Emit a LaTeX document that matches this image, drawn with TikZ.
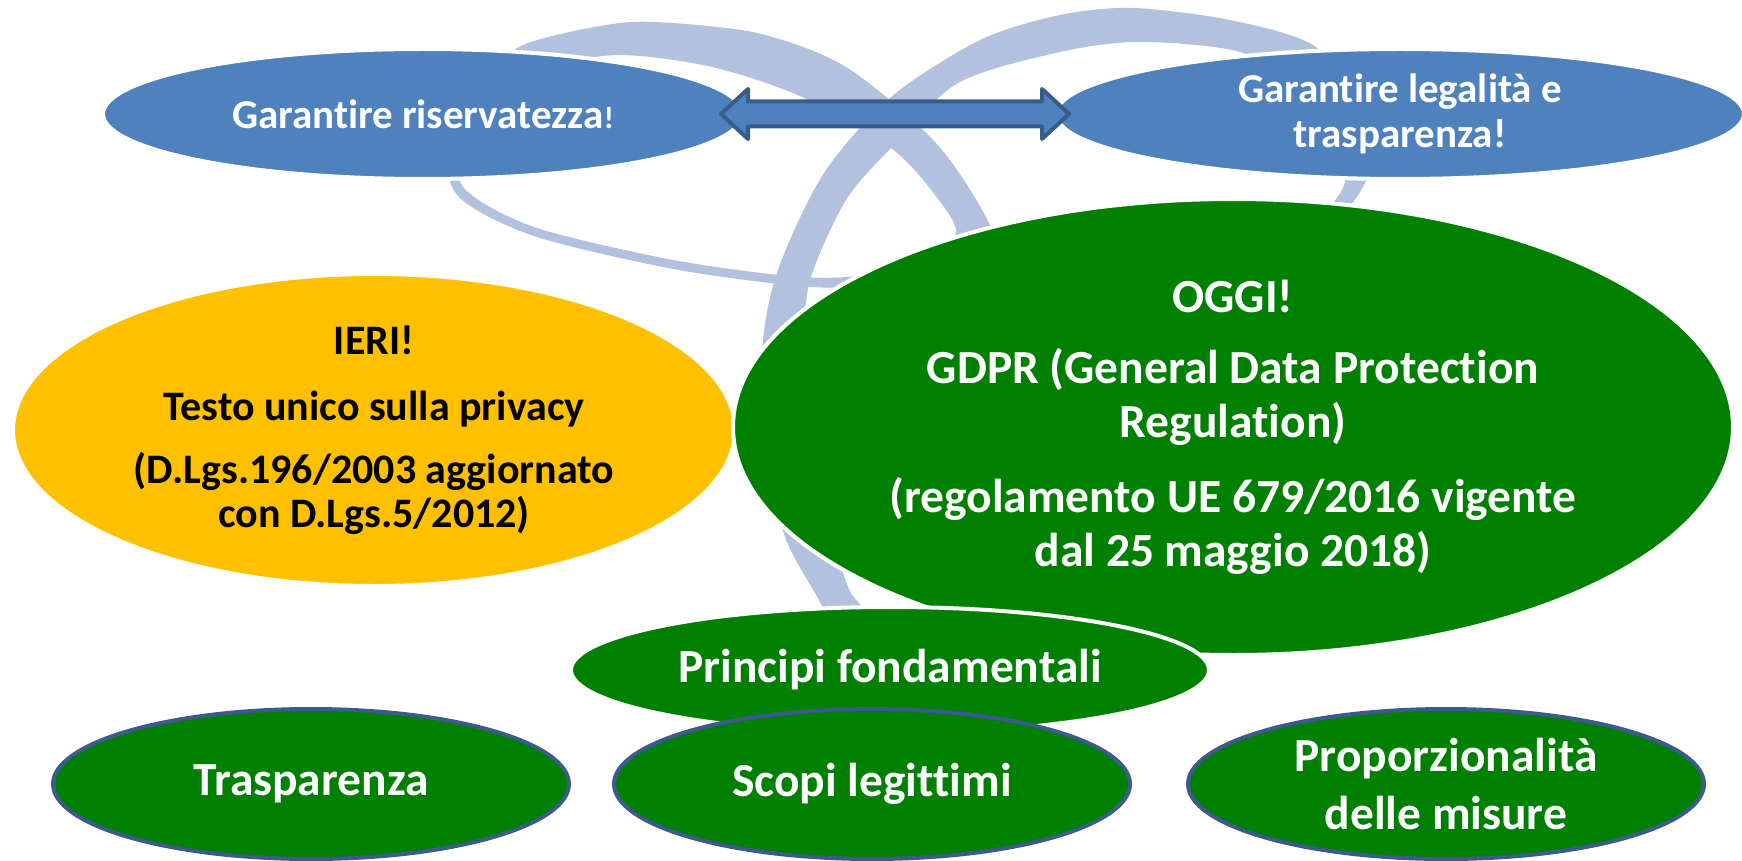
\documentclass[tikz,border=0pt]{standalone}
\usepackage{fontspec}
\setmainfont{Carlito}[Ligatures=NoCommon]
\usetikzlibrary{calc,shapes.geometric}
\definecolor{ringColor}{RGB}{178,194,222}
\definecolor{accentColor}{RGB}{79,129,189}
\definecolor{accentDark}{RGB}{56,93,138}
\definecolor{todayColor}{RGB}{0,128,0}
\definecolor{pastColor}{RGB}{255,192,0}
\definecolor{borderColor}{RGB}{60,90,140}

\begin{document}
\begin{tikzpicture}[
    x=1pt, y=-1pt,
    every node/.style={align=center, inner sep=0pt},
    ring band/.style={fill=ringColor, even odd rule},
    bubble/.style={ellipse, draw=white, line width=4pt},
    goal bubble/.style={bubble, fill=accentColor, text=white, minimum height=130pt, font=\bfseries\fontsize{41}{45}\selectfont},
    ieri bubble/.style={bubble, fill=pastColor, text=black, minimum width=722pt, minimum height=312pt, font=\bfseries\fontsize{42}{44}\selectfont},
    oggi bubble/.style={bubble, fill=todayColor, text=white, minimum width=1000pt, minimum height=456pt, font=\bfseries\fontsize{47.5}{54}\selectfont},
    principle/.style={bubble, fill=todayColor, text=white, font=\bfseries\fontsize{47.5}{58}\selectfont},
    sub principle/.style={principle, draw=borderColor, minimum width=516pt, minimum height=150pt},
    link arrow/.style={fill=accentColor, draw=accentDark, line width=4pt, line join=round}
]
    \useasboundingbox (0,0) rectangle (1742,861);

    \fill[ring band]
        plot[smooth cycle] coordinates {(447,140) (480,80) (523,45) (600,26) (654,22) (757,33) (846,67) (936,143) (989,223) (985,250) (940,272) (846,287) (779,284) (668,268) (534,236) (458,196)}
        plot[smooth cycle] coordinates {(460,140) (490,92) (540,68) (619,55) (712,67) (802,97) (891,148) (935,195) (956,232) (930,262) (846,277) (779,275) (668,259) (534,227) (464,188)};
    \fill[ring band]
        plot[smooth cycle] coordinates {(1133,8) (1230,20) (1313,45) (1362,100) (1375,150) (1360,192) (1300,270) (1200,400) (1100,530) (990,640) (900,690) (845,655) (820,602) (785,537) (762,440) (763,340) (779,267) (824,173) (891,97) (980,40) (1060,15)}
        plot[smooth cycle] coordinates {(1140,42) (1240,52) (1300,90) (1335,140) (1343,188) (1280,262) (1180,390) (1080,510) (965,605) (900,635) (858,602) (843,573) (815,480) (803,400) (803,340) (811,277) (846,200) (891,148) (958,83) (1060,52)};

    \draw (423,114) node[goal bubble, minimum width=640pt] (gar_riserv) {Garantire riservatezza{\fontsize{31}{31}\selectfont!}};
    \draw (gar_riserv) ++(977,0) node[goal bubble, minimum width=688pt] (gar_legal) {Garantire legalità e\\trasparenza!};

    \coordinate (link_l) at ($ (gar_riserv.east) +(-24,0) $);
    \coordinate (link_r) at ($ (gar_legal.west) +(15,0) $);
    \draw[link arrow] (link_l) -- ++(27,-25) -- ++(0,12.5)
        -- ($ (link_r) +(-27,-12.5) $) -- ++(0,-12.5) -- (link_r)
        -- ++(-27,25) -- ++(0,-12.5)
        -- ($ (link_l) +(27,12.5) $) -- ++(0,12.5) -- cycle;

    \draw (374,430) node[ieri bubble] (ieri) {IERI!\\[22pt]Testo unico sulla privacy\\[19pt](D.Lgs.196/2003 aggiornato\\con D.Lgs.5/2012)};
    \draw (1233,427) node[oggi bubble] (oggi) {OGGI!\\[17pt]GDPR (General Data Protection\\Regulation)\\[21pt](regolamento UE 679/2016 vigente\\dal 25 maggio 2018)};

    \draw (890,670) node[principle, minimum width=638pt, minimum height=126pt] (princ) {Principi fondamentali};

    \draw (princ) ++(-18,114) node[sub principle] (pr_scopi) {Scopi legittimi};
    \draw (pr_scopi) ++(-561,0) node[sub principle] (pr_trasp) {Trasparenza};
    \draw (pr_scopi) ++(574,0) node[sub principle] (pr_prop) {Proporzionalità\\delle misure};
\end{tikzpicture}
\end{document}
